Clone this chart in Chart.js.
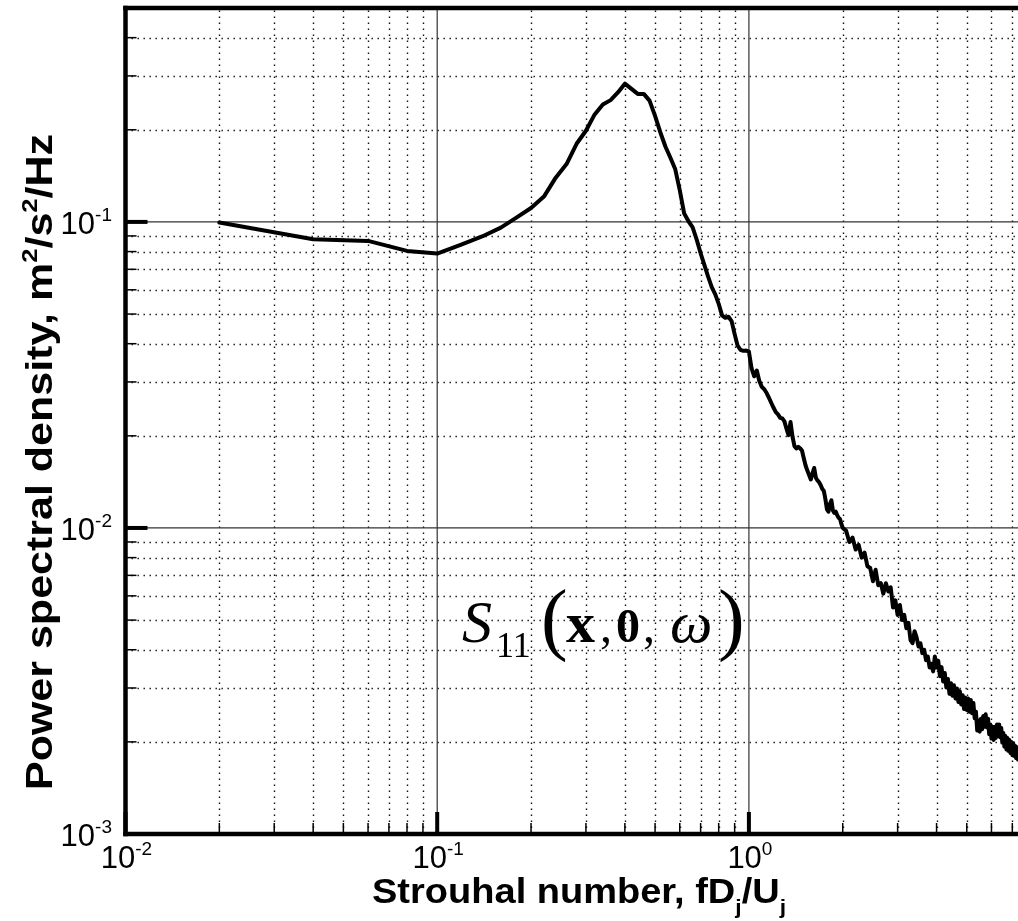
<!DOCTYPE html>
<html>
<head>
<meta charset="utf-8">
<script src="https://cdn.jsdelivr.net/npm/chart.js@4.4.1/dist/chart.umd.min.js"></script>
<style>
  html, body { margin: 0; padding: 0; background: #fff; }
  canvas { display: block; }
</style>
</head>
<body>
<canvas id="psd" width="1018" height="921"></canvas>
<script>
// Strouhal number bins of the spectrum
const strouhal = [
  0.02, 0.04, 0.06, 0.08, 0.10, 0.12, 0.14, 0.16, 0.18, 0.20,
  0.22, 0.24, 0.26, 0.28, 0.30, 0.32, 0.34, 0.36, 0.38, 0.40,
  0.42, 0.44, 0.46, 0.48, 0.50, 0.52, 0.54, 0.56, 0.58, 0.60,
  0.62, 0.64, 0.66, 0.68, 0.70, 0.72, 0.74, 0.76, 0.78, 0.80,
  0.82, 0.84, 0.86, 0.88, 0.90, 0.92, 0.94, 0.96, 0.98, 1.00,
  1.02, 1.04, 1.06, 1.08, 1.10, 1.12, 1.14, 1.16, 1.18, 1.20,
  1.22, 1.24, 1.26, 1.28, 1.30, 1.32, 1.34, 1.36, 1.38, 1.40,
  1.42, 1.44, 1.46, 1.48, 1.50, 1.52, 1.54, 1.56, 1.58, 1.60,
  1.62, 1.64, 1.66, 1.68, 1.70, 1.72, 1.74, 1.76, 1.78, 1.80,
  1.82, 1.84, 1.86, 1.88, 1.90, 1.92, 1.94, 1.96, 1.98, 2.00,
  2.05, 2.10, 2.15, 2.20, 2.25, 2.30, 2.35, 2.40, 2.45, 2.50,
  2.55, 2.60, 2.65, 2.70, 2.75, 2.80, 2.85, 2.90, 2.95, 3.00,
  3.05, 3.10, 3.15, 3.20, 3.25, 3.30, 3.35, 3.40, 3.45, 3.50,
  3.55, 3.60, 3.65, 3.70, 3.75, 3.80, 3.85, 3.90, 3.95, 4.00,
  4.05, 4.10, 4.15, 4.20, 4.25, 4.30, 4.35, 4.40, 4.45, 4.50,
  4.55, 4.60, 4.65, 4.70, 4.75, 4.80, 4.85, 4.90, 4.95, 5.00,
  5.05, 5.10, 5.15, 5.20, 5.25, 5.30, 5.35, 5.40, 5.45, 5.50,
  5.55, 5.60, 5.65, 5.70, 5.75, 5.80, 5.85, 5.90, 5.95, 6.00,
  6.05, 6.10, 6.15, 6.20, 6.25, 6.30, 6.35, 6.40, 6.45, 6.50,
  6.55, 6.60, 6.65, 6.70, 6.75, 6.80, 6.85, 6.90, 6.95, 7.00,
  7.05, 7.10, 7.15, 7.20, 7.25, 7.30, 7.35, 7.40
];

// Power spectral density S11, m^2/s^2/Hz
const psd = [
  0.0995, 0.0878, 0.0867, 0.0804, 0.0788, 0.0845, 0.0898, 0.0958, 0.1035, 0.1110,
  0.1210, 0.1395, 0.1545, 0.1800, 0.1985, 0.2245, 0.2420, 0.2500, 0.2650, 0.2830,
  0.2720, 0.2620, 0.2620, 0.2490, 0.2220, 0.1960, 0.1760, 0.1620, 0.1490, 0.1270,
  0.1065, 0.1005, 0.0960, 0.0875, 0.0790, 0.0722, 0.0662, 0.0612, 0.0580, 0.0540,
  0.0495, 0.0486, 0.0490, 0.0474, 0.0430, 0.0394, 0.0382, 0.0379, 0.0380, 0.0377,
  0.0332, 0.0313, 0.0327, 0.0302, 0.0289, 0.0284, 0.0276, 0.0266, 0.0256, 0.0247,
  0.0239, 0.0235, 0.0229, 0.0228, 0.0223, 0.0211, 0.0201, 0.0222, 0.0199, 0.0185,
  0.0182, 0.0184, 0.0182, 0.0179, 0.0169, 0.0160, 0.0154, 0.0149, 0.0144, 0.0151,
  0.0157, 0.0146, 0.0143, 0.0141, 0.0138, 0.0134, 0.0132, 0.0124, 0.0115, 0.0113,
  0.0120, 0.0123, 0.0114, 0.0112, 0.0113, 0.0110, 0.0108, 0.0107, 0.0103, 0.0100,
  0.0098, 0.0090, 0.0093, 0.0085, 0.0088, 0.0080, 0.0083, 0.0075, 0.0074, 0.0067,
  0.0073, 0.0065, 0.0066, 0.0061, 0.0066, 0.0062, 0.0064, 0.0055, 0.0058, 0.0052,
  0.0056, 0.0050, 0.0052, 0.0047, 0.0049, 0.0043, 0.0042, 0.0046, 0.0044, 0.0041,
  0.0042, 0.0039, 0.0040, 0.0037, 0.0038, 0.0035, 0.0036, 0.0034, 0.0038, 0.0035,
  0.00368, 0.00328, 0.00351, 0.00315, 0.00336, 0.00301, 0.00321, 0.00287, 0.00311, 0.00283,
  0.00306, 0.00277, 0.00299, 0.00270, 0.00293, 0.00265, 0.00284, 0.00256, 0.00279, 0.00254,
  0.00277, 0.00251, 0.00274, 0.00248, 0.00268, 0.00239, 0.00251, 0.00218, 0.00235, 0.00216,
  0.00238, 0.00220, 0.00243, 0.00224, 0.00246, 0.00223, 0.00238, 0.00212, 0.00228, 0.00205,
  0.00224, 0.00203, 0.00224, 0.00206, 0.00228, 0.00209, 0.00228, 0.00207, 0.00222, 0.00199,
  0.00214, 0.00193, 0.00209, 0.00189, 0.00206, 0.00187, 0.00203, 0.00184, 0.00200, 0.00181,
  0.00198, 0.00180, 0.00194, 0.00177, 0.00192, 0.00175, 0.00190, 0.00173
];

// Decade (major) and in-between (minor) tick values
const xMajor = [0.01, 0.1, 1];
const xMajorExp = ['-2', '-1', '0'];
const yMajor = [0.001, 0.01, 0.1];
const yMajorExp = ['-3', '-2', '-1'];
const xMinor = [0.02, 0.03, 0.04, 0.05, 0.06, 0.07, 0.08, 0.09,
                0.2, 0.3, 0.4, 0.5, 0.6, 0.7, 0.8, 0.9,
                2, 3, 4, 5, 6, 7];
const yMinor = [0.002, 0.003, 0.004, 0.005, 0.006, 0.007, 0.008, 0.009,
                0.02, 0.03, 0.04, 0.05, 0.06, 0.07, 0.08, 0.09,
                0.2, 0.3, 0.4];

const SANS = '"Liberation Sans", Arial, Helvetica, sans-serif';
const SERIF = '"Liberation Serif", "Times New Roman", serif';

function seg(ctx, x1, y1, x2, y2) {
  ctx.beginPath();
  ctx.moveTo(x1, y1);
  ctx.lineTo(x2, y2);
  ctx.stroke();
}

// "10" with a raised exponent; anchor is 'center' or 'right'
function powerLabel(ctx, exp, x, baseline, anchor) {
  const base = '31px ' + SANS, sup = '19px ' + SANS;
  ctx.font = base;
  const w1 = ctx.measureText('10').width;
  ctx.font = sup;
  const w2 = ctx.measureText(exp).width;
  const left = anchor === 'center' ? x - (w1 + w2) / 2 : x - (w1 + w2);
  ctx.textAlign = 'left';
  ctx.textBaseline = 'alphabetic';
  ctx.font = base;
  ctx.fillText('10', left, baseline);
  ctx.font = sup;
  ctx.fillText(exp, left + w1, baseline - 13);
}

// Axis title built from runs of normal, subscript and superscript text,
// stretched along its direction to the given length
function richTitle(ctx, runs, size, length) {
  const fonts = { n: 'bold ' + size + 'px ' + SANS, s: 'bold ' + Math.round(size * 0.6) + 'px ' + SANS };
  let total = 0;
  runs.forEach(r => { ctx.font = r.k === 'n' ? fonts.n : fonts.s; total += ctx.measureText(r.t).width; });
  const sx = length / total;
  ctx.save();
  ctx.scale(sx, 1);
  let cx = 0;
  runs.forEach(r => {
    ctx.font = r.k === 'n' ? fonts.n : fonts.s;
    const dy = r.k === 'sub' ? size * 0.3 : r.k === 'sup' ? -size * 0.4 : 0;
    ctx.fillText(r.t, cx, dy);
    cx += ctx.measureText(r.t).width;
  });
  ctx.restore();
}

const plotFrame = {
  id: 'plotFrame',
  beforeDatasetsDraw(chart) {
    const { ctx, chartArea: a, scales: { x, y } } = chart;
    ctx.save();
    ctx.beginPath();
    ctx.rect(a.left, a.top, a.right - a.left, a.bottom - a.top);
    ctx.clip();
    // dotted minor grid
    ctx.strokeStyle = '#111';
    ctx.lineWidth = 1.4;
    ctx.setLineDash([1.4, 4.6]);
    xMinor.forEach(v => { const p = Math.round(x.getPixelForValue(v)) + 0.5; seg(ctx, p, a.bottom, p, a.top); });
    yMinor.forEach(v => { const p = Math.round(y.getPixelForValue(v)) + 0.5; seg(ctx, a.left, p, a.right, p); });
    // solid decade grid
    ctx.setLineDash([]);
    ctx.strokeStyle = '#333';
    ctx.lineWidth = 1.2;
    xMajor.forEach(v => { const p = x.getPixelForValue(v); seg(ctx, p, a.bottom, p, a.top); });
    yMajor.forEach(v => { const p = y.getPixelForValue(v); seg(ctx, a.left, p, a.right, p); });
    ctx.restore();
  },
  afterDatasetsDraw(chart) {
    const { ctx, chartArea: a, scales: { x, y } } = chart;
    ctx.save();
    ctx.strokeStyle = '#000';
    ctx.fillStyle = '#000';
    ctx.lineCap = 'butt';

    // minor ticks pointing into the plot
    ctx.lineWidth = 1.5;
    xMinor.forEach(v => { const p = x.getPixelForValue(v); seg(ctx, p, a.bottom, p, a.bottom - 11); });
    yMinor.forEach(v => { const p = y.getPixelForValue(v); seg(ctx, a.left, p, a.left + 11, p); });
    // major ticks
    ctx.lineWidth = 4;
    xMajor.forEach(v => { const p = x.getPixelForValue(v); seg(ctx, p, a.bottom, p, a.bottom - 22); });
    yMajor.forEach(v => { const p = y.getPixelForValue(v); seg(ctx, a.left, p, a.left + 22, p); });

    // heavy frame on left, top and bottom
    ctx.lineWidth = 4.5;
    ctx.lineCap = 'square';
    seg(ctx, a.left, a.top, a.right + 4, a.top);
    seg(ctx, a.left, a.top, a.left, a.bottom);
    seg(ctx, a.left, a.bottom, a.right + 4, a.bottom);

    // tick labels
    xMajor.forEach((v, i) => powerLabel(ctx, xMajorExp[i], x.getPixelForValue(v) + 1, a.bottom + 34, 'center'));
    yMajor.forEach((v, i) => powerLabel(ctx, yMajorExp[i], 112, y.getPixelForValue(v) + 12, 'right'));

    // axis titles
    ctx.textAlign = 'left';
    ctx.textBaseline = 'alphabetic';
    ctx.save();
    ctx.translate(372, 903);
    richTitle(ctx, [
      { t: 'Strouhal number, fD', k: 'n' },
      { t: 'j', k: 'sub' },
      { t: '/U', k: 'n' },
      { t: 'j', k: 'sub' }
    ], 35, 414);
    ctx.restore();

    ctx.save();
    ctx.translate(52, 790);
    ctx.rotate(-Math.PI / 2);
    richTitle(ctx, [
      { t: 'Power spectral density, m', k: 'n' },
      { t: '2', k: 'sup' },
      { t: '/s', k: 'n' },
      { t: '2', k: 'sup' },
      { t: '/Hz', k: 'n' }
    ], 37, 656);
    ctx.restore();

    // in-plot annotation S11(x,0,ω)
    ctx.font = 'italic 60px ' + SERIF;
    ctx.fillText('S', 462, 642);
    ctx.font = '36px ' + SERIF;
    ctx.fillText('11', 496, 657);
    ctx.font = '80px ' + SERIF;
    ctx.fillText('(', 541, 645);
    ctx.font = 'bold 58px ' + SERIF;
    ctx.fillText('x', 566, 642);
    ctx.font = '48px ' + SERIF;
    ctx.fillText(',', 600, 642);
    ctx.font = 'bold 48px ' + SERIF;
    ctx.fillText('0', 616, 642);
    ctx.font = '48px ' + SERIF;
    ctx.fillText(',', 643, 642);
    ctx.font = 'italic 60px ' + SERIF;
    ctx.fillText('\u03C9', 670, 642);
    ctx.font = '80px ' + SERIF;
    ctx.fillText(')', 718, 645);
    ctx.restore();
  }
};

new Chart(document.getElementById('psd'), {
  type: 'line',
  data: {
    datasets: [{
      data: strouhal.map((s, i) => ({ x: s, y: psd[i] })),
      borderColor: '#000',
      borderWidth: 4,
      borderJoinStyle: 'round',
      borderCapStyle: 'round',
      pointRadius: 0,
      fill: false,
      tension: 0
    }]
  },
  options: {
    responsive: false,
    animation: false,
    devicePixelRatio: 1,
    layout: { padding: { top: 8, right: 0, bottom: 0, left: 0 } },
    plugins: { legend: { display: false }, tooltip: { enabled: false } },
    scales: {
      x: {
        type: 'logarithmic', min: 0.01, max: 7.3,
        ticks: { display: false }, grid: { display: false }, border: { display: false },
        afterFit(s) { s.height = 87; }
      },
      y: {
        type: 'logarithmic', min: 0.001, max: 0.5,
        ticks: { display: false }, grid: { display: false }, border: { display: false },
        afterFit(s) { s.width = 125.5; }
      }
    }
  },
  plugins: [plotFrame]
});
</script>
</body>
</html>
